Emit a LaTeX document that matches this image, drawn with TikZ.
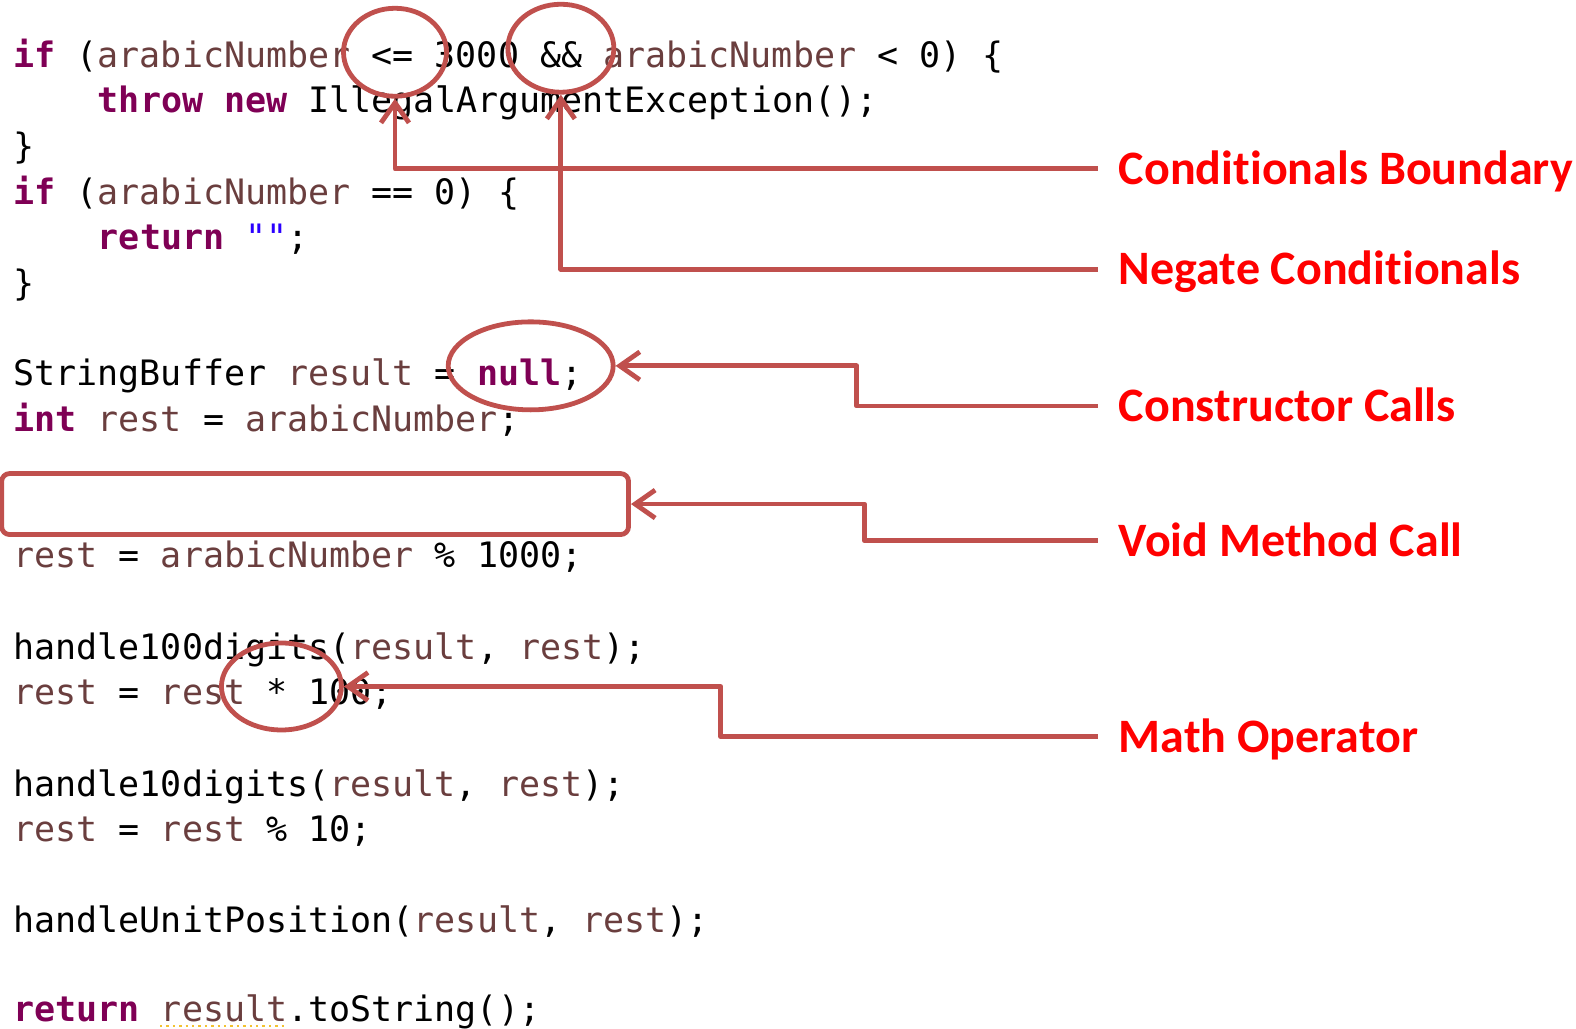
\documentclass[tikz,border=0pt]{standalone}
\usepackage{fontspec}
\setmainfont{Carlito}[Ligatures={NoCommon,NoContextual},RawFeature={-liga;-clig;-calt}]
\newfontfamily\codefont{DejaVu Sans Mono}
\usetikzlibrary{arrows.meta,shapes.geometric,calc}

\definecolor{mutred}{HTML}{C0504D}
\definecolor{labelred}{HTML}{FF0000}
\definecolor{kwpurple}{HTML}{7F0055}
\definecolor{varbrown}{HTML}{6A3E3E}
\definecolor{strblue}{HTML}{2A00FF}
\definecolor{warnyellow}{HTML}{F2C230}

\newcommand{\kw}[1]{\textcolor{kwpurple}{\bfseries #1}}
\newcommand{\lv}[1]{\textcolor{varbrown}{#1}}
\newcommand{\strl}[1]{\textcolor{strblue}{#1}}

\begin{document}
\begin{tikzpicture}[
    x=0.5026pt, y=-0.5026pt,
    code/.style={
        anchor=base west,
        inner sep=0pt,
        font=\codefont\fontsize{17.5}{20}\selectfont\frenchspacing
    },
    mutant/.style={
        anchor=west,
        inner xsep=10.5pt,
        inner ysep=0pt,
        text height=15.5pt,
        text depth=0pt,
        text=labelred,
        font=\fontsize{24}{28}\selectfont\bfseries
    },
    ring/.style={
        ellipse,
        draw=mutred,
        line width=2.4pt,
        inner sep=0pt
    },
    voidbox/.style={
        rectangle,
        draw=mutred,
        line width=2.4pt,
        rounded corners=4pt,
        inner sep=0pt
    },
    pointer/.style={
        draw=mutred,
        line width=2.4pt,
        line join=round,
        -{Straight Barb[length=10pt,width=14pt]}
    },
    elbow/.style={
        to path={-| ($(\tikztostart)!.5!(\tikztotarget)$) |- (\tikztotarget)}
    }
    ]
    \useasboundingbox (0,0) rectangle (1568,1023);

    % the code
    \node[code] (L0)  at (13,67)   {\kw{if} (\lv{arabicNumber} <= 3000 \&\& \lv{arabicNumber} < 0) \{};
    \node[code] (L1)  at (97,112)  {\kw{throw} \kw{new} IllegalArgumentException();};
    \node[code] (L2)  at (13,158)  {\}};
    \node[code] (L3)  at (13,203)  {\kw{if} (\lv{arabicNumber} == 0) \{};
    \node[code] (L4)  at (97,248)  {\kw{return} \strl{""};};
    \node[code] (L5)  at (13,294)  {\}};
    \node[code] (L7)  at (13,384)  {StringBuffer \lv{result} = \kw{null};};
    \node[code] (L8)  at (13,429)  {\kw{int} \lv{rest} = \lv{arabicNumber};};
    \node[code] (L11) at (13,565)  {\lv{rest} = \lv{arabicNumber} \% 1000;};
    \node[code] (L13) at (13,656)  {handle100digits(\lv{result}, \lv{rest});};
    \node[code] (L14) at (13,701)  {\lv{rest} = \lv{rest} * 100;};
    \node[code] (L16) at (13,792)  {handle10digits(\lv{result}, \lv{rest});};
    \node[code] (L17) at (13,837)  {\lv{rest} = \lv{rest} \% 10;};
    \node[code] (L19) at (13,928)  {handleUnitPosition(\lv{result}, \lv{rest});};
    \node[code] (L21) at (13,1016) {\kw{return} \lv{result}.toString();};
    \draw[warnyellow, line width=1.2pt, dotted] ([xshift=73.5pt,yshift=-2.5pt]L21.base west) -- ++(126,0);

    % the marks
    \node[ring, minimum width=51.5pt, minimum height=44pt] (LEQ) at (393,52) {};
    \node[ring, minimum width=53pt, minimum height=44pt] (AND) at (558,48) {};
    \node[ring, minimum width=82.5pt, minimum height=44pt] (NULL) at (528,364) {};
    \node[voidbox, minimum width=313.5pt, minimum height=30.5pt] (VOID) at (313.5,501.5) {};
    \node[ring, minimum width=60pt, minimum height=43.5pt] (MUL) at (280,683) {};

    % the mutators
    \node[mutant] (CB)  at (1092,168) {Conditionals Boundary};
    \node[mutant] (NC)  at (1092,268) {Negate Conditionals};
    \node[mutant] (CC)  at (1092,404) {Constructor Calls};
    \node[mutant] (VMC) at (1092,538) {Void Method Call};
    \node[mutant] (MO)  at (1092,733) {Math Operator};

    \draw[pointer] (CB.west) -| (LEQ.south);
    \draw[pointer] (NC.west) -| (AND.south);
    \draw[pointer] (CC.west) to[elbow] (NULL.east);
    \draw[pointer] (VMC.west) to[elbow] (VOID.east);
    \draw[pointer] (MO.west) to[elbow] (MUL.east);
\end{tikzpicture}
\end{document}
